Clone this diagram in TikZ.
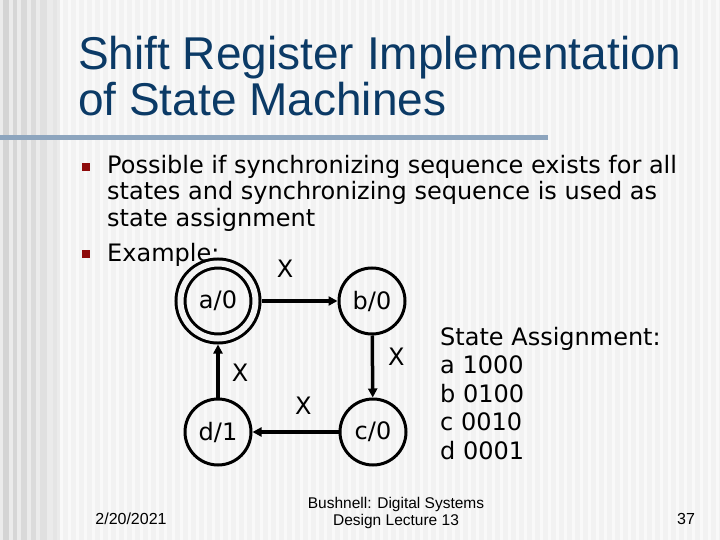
\documentclass[tikz,border=0pt]{standalone}
\usepackage{fontspec}
\setmainfont{DejaVu Sans}
\newfontfamily\slidefont{Liberation Sans}
\usetikzlibrary{arrows.meta}
\definecolor{slidebg}{HTML}{F2F2F2}
\definecolor{titleblue}{HTML}{0B3A66}
\definecolor{rulegray}{HTML}{8DA5BE}
\definecolor{bulletred}{HTML}{8E0B0B}

\begin{document}
\begin{tikzpicture}[x=1pt,y=-1pt,
    body/.style={anchor=base west,inner sep=0pt,font=\fontsize{24}{28}\selectfont},
    state/.style={circle,draw,line width=3pt,minimum size=66pt,inner sep=0pt,
                  font=\fontsize{24}{28}\selectfont},
    startstate/.style={state,double=slidebg,double distance=6pt,minimum size=75pt,outer sep=6pt},
    trans/.style={line width=3.5pt,-{Triangle[length=9pt,width=9pt]}},
    lbl/.style={inner sep=0pt,font=\fontsize{24}{28}\selectfont}]
  \useasboundingbox (0,0) rectangle (720,540);
  % background & stripes
  \fill[slidebg] (0,0) rectangle (720,540);
  \foreach \x in {60,68,...,716}
    \fill[white,opacity=0.55] (\x,0) rectangle ++(3,540);
  \fill[black!8] (0,0) rectangle (60,540);
  \foreach \x/\w/\g in {3/6/17,13/4/16,21/6/15,31/5/14,40/7/12,53/4/10}
    \fill[black!\g] (\x,0) rectangle ++(\w,540);
  % title
  \node[anchor=base west,inner sep=0pt,text=titleblue,font=\slidefont\fontsize{46}{52}\selectfont]
    (title1) at (78,70) {Shift Register Implementation};
  \node[anchor=base west,inner sep=0pt,text=titleblue,font=\slidefont\fontsize{46}{52}\selectfont]
    (title2) at (78,116) {of State Machines};
  \fill[rulegray] (0,135) rectangle (548,140);
  % bullets
  \fill[bulletred] (82,163) rectangle ++(8,8);
  \fill[bulletred] (82,250) rectangle ++(8,8);
  \node[body] (p1) at (107,174) {Possible if synchronizing sequence exists for all};
  \node[body] (p2) at (107,200) {states and synchronizing sequence is used as};
  \node[body] (p3) at (107,226) {state assignment};
  \node[body] (ex) at (107,261) {Example:};
  % state machine
  \node[startstate] (a) at (218,301) {a/0};
  \node[state] (b) at (372,301) {b/0};
  \node[state] (c) at (373,432) {c/0};
  \node[state] (d) at (218,432) {d/1};
  \draw[trans] (a) -- node[lbl,pos=0.31,above=22pt] (xab) {X} (b);
  \draw[trans] (b) -- node[lbl,pos=0.35,right=14pt] (xbc) {X} (c);
  \draw[trans] (c) -- node[lbl,pos=0.41,above=16pt] (xcd) {X} (d);
  \draw[trans] (d) -- node[lbl,pos=0.46,right=12pt] (xda) {X} (a);
  % state assignment
  \foreach \t [count=\i] in {State Assignment:,a 1000,b 0100,c 0010,d 0001}
    \node[body] (sa\i) at (440,345+28.5*\i-28.5) {\t};
  % footer
  \node[anchor=base,inner sep=0pt,font=\slidefont\fontsize{16}{17}\selectfont]
    (date) at (131,524) {2/20/2021};
  \node[anchor=north,align=center,inner sep=0pt,font=\slidefont\fontsize{15.5}{17}\selectfont]
    (course) at (396,497) {Bushnell: Digital Systems\\Design Lecture 13};
  \node[anchor=base,inner sep=0pt,font=\slidefont\fontsize{16}{17}\selectfont]
    (page) at (686,524) {37};
\end{tikzpicture}
\end{document}
